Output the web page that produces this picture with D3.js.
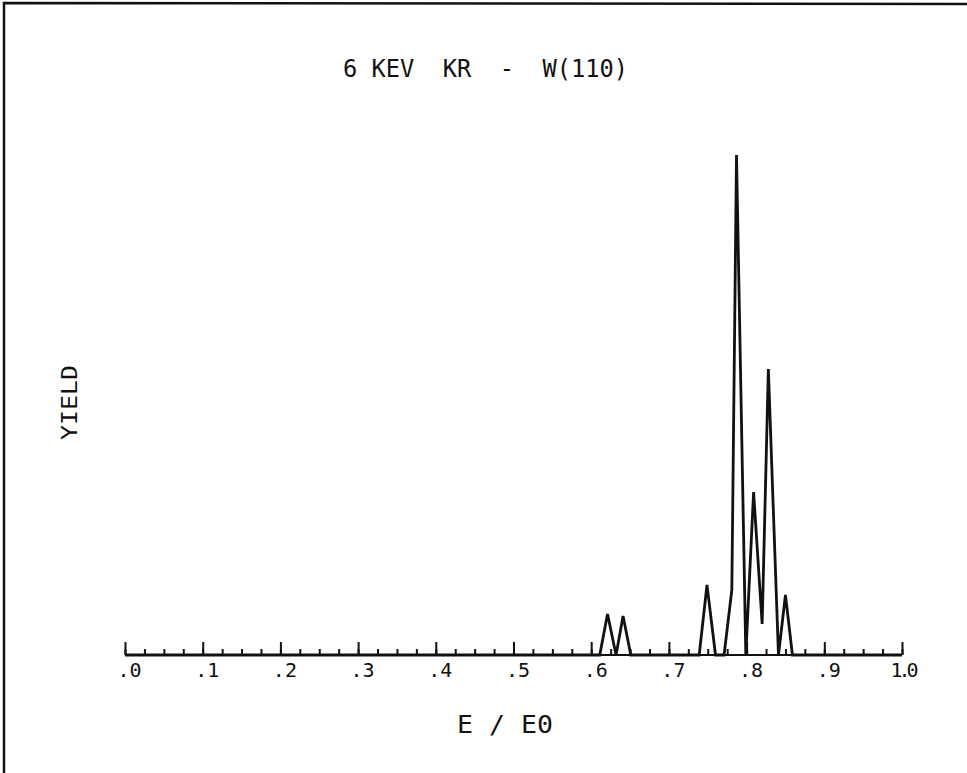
<!DOCTYPE html>
<html>
<head>
<meta charset="utf-8">
<script src="https://cdn.jsdelivr.net/npm/d3@7"></script>
<style>
  body { margin: 0; background: #fff; }
  text { font-family: "DejaVu Sans Mono", monospace; fill: #111; }
</style>
</head>
<body>
<div id="chart"></div>
<script>
const svgWidth = 967;
const svgHeight = 773;

// spectrum: E/E0 and yield (main peak = 100)
const energy = [0.0, 0.611, 0.621, 0.632, 0.641, 0.651, 0.739, 0.749, 0.760, 0.771, 0.781, 0.787, 0.799, 0.809, 0.820, 0.828, 0.841, 0.850, 0.859, 1.0];
const yieldVals = [0, 0, 8.2, 0, 7.8, 0, 0, 14.0, 0, 0, 13.0, 100, 0, 32.6, 6.2, 57.2, 0, 12.0, 0, 0];

const majorTicks = [0, 0.1, 0.2, 0.3, 0.4, 0.5, 0.6, 0.7, 0.8, 0.9, 1.0];
const tickLabels = [".0", ".1", ".2", ".3", ".4", ".5", ".6", ".7", ".8", ".9", "1.0"];
const minorTicks = d3.range(0, 41).map(i => i * 0.025);

const title = "6 KEV  KR  -  W(110)";
const xTitle = "E / E0";
const yTitle = "YIELD";

const svg = d3.select("#chart")
  .append("svg")
  .attr("width", svgWidth)
  .attr("height", svgHeight);

// scanned page frame
svg.append("path")
  .attr("d", "M4,773 L4,3 L967,4")
  .attr("fill", "none")
  .attr("stroke", "#111")
  .attr("stroke-width", 2.5);

const x = d3.scaleLinear()
  .domain([0, 1])
  .range([125, 902]);

const y = d3.scaleLinear()
  .domain([0, 100])
  .range([655, 155]);

// axis line with minor ticks
const minorAxis = d3.axisBottom(x)
  .tickValues(minorTicks)
  .tickSize(-6)
  .tickFormat("");

const axisG = svg.append("g")
  .attr("transform", `translate(0, ${y(0)})`)
  .call(minorAxis);

axisG.select(".domain")
  .attr("d", `M${x(0)},0H${x(1)}`)
  .attr("stroke", "#111")
  .attr("stroke-width", 2);
axisG.selectAll(".tick line")
  .attr("stroke", "#111")
  .attr("stroke-width", 2);

// major ticks
const majorAxis = d3.axisBottom(x)
  .tickValues(majorTicks)
  .tickSize(-13)
  .tickFormat((d, i) => tickLabels[i]);

const majorG = svg.append("g")
  .attr("transform", `translate(0, ${y(0)})`)
  .call(majorAxis);

majorG.select(".domain").remove();
majorG.selectAll(".tick line")
  .attr("stroke", "#111")
  .attr("stroke-width", 2);
majorG.selectAll(".tick text")
  .attr("x", (d, i) => tickLabels[i].length > 2 ? 2 : 4)
  .attr("y", 22)
  .attr("dy", 0)
  .attr("fill", "#111")
  .style("font-size", "20px")
  .filter((d, i) => tickLabels[i].length > 2)
  .attr("textLength", 28)
  .attr("lengthAdjust", "spacing");

// spectrum line
const line = d3.line()
  .x((d, i) => x(energy[i]))
  .y(d => y(d));

svg.append("path")
  .datum(yieldVals)
  .attr("d", line)
  .attr("fill", "none")
  .attr("stroke", "#111")
  .attr("stroke-width", 2.8)
  .attr("stroke-linejoin", "miter");

// titles
svg.append("text")
  .attr("x", 343)
  .attr("y", 77)
  .style("font-size", "25px")
  .attr("textLength", 285)
  .attr("lengthAdjust", "spacingAndGlyphs")
  .style("white-space", "pre")
  .text(title);

svg.append("text")
  .attr("x", 457)
  .attr("y", 733)
  .style("font-size", "25px")
  .attr("textLength", 96)
  .attr("lengthAdjust", "spacingAndGlyphs")
  .style("white-space", "pre")
  .text(xTitle);

svg.append("text")
  .attr("transform", "translate(77, 440) rotate(-90)")
  .style("font-size", "22px")
  .attr("textLength", 75)
  .attr("lengthAdjust", "spacingAndGlyphs")
  .text(yTitle);
</script>
</body>
</html>
